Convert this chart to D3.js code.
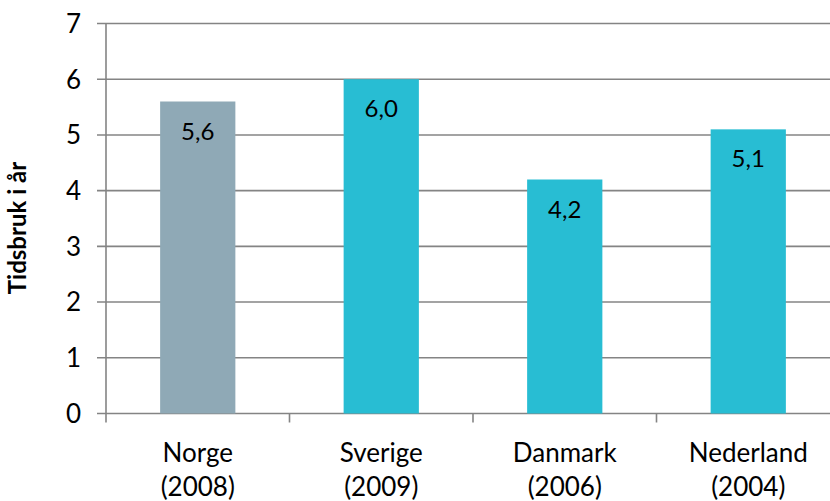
<!DOCTYPE html>
<html>
<head>
<meta charset="utf-8">
<script src="https://d3js.org/d3.v7.min.js"></script>
<style>
  body { margin: 0; background: #fff; }
  text { font-family: Lato, "Open Sans", sans-serif; fill: #000; }
</style>
</head>
<body>
<script>
const countries = ["Norge", "Sverige", "Danmark", "Nederland"];
const years = ["(2008)", "(2009)", "(2006)", "(2004)"];
const values = [5.6, 6.0, 4.2, 5.1];
const yTicks = [0, 1, 2, 3, 4, 5, 6, 7];
const barColors = ["#8FA9B6", "#28BDD3", "#28BDD3", "#28BDD3"];

const width = 830, height = 501;
const plotLeft = 106, plotRight = 840, plotTop = 23.5, plotBottom = 413.5;

const svg = d3.select("body").append("svg")
    .attr("width", width)
    .attr("height", height);

const x = d3.scaleBand()
    .domain(countries)
    .range([plotLeft, plotRight])
    .paddingInner(0.59)
    .paddingOuter(0.295);

const y = d3.scaleLinear()
    .domain([0, 7])
    .range([plotBottom, plotTop]);

// gridlines
svg.append("g")
    .selectAll("line")
    .data(yTicks)
    .enter().append("line")
    .attr("x1", plotLeft - 9)
    .attr("x2", plotRight)
    .attr("y1", d => y(d))
    .attr("y2", d => y(d))
    .attr("stroke", "#848484")
    .attr("stroke-width", 1.6);

// bars
svg.append("g")
    .selectAll("rect")
    .data(values)
    .enter().append("rect")
    .attr("x", (d, i) => x(countries[i]))
    .attr("width", x.bandwidth())
    .attr("y", d => y(d))
    .attr("height", d => y(0) - y(d))
    .attr("fill", (d, i) => barColors[i]);

// y axis line
svg.append("line")
    .attr("x1", plotLeft).attr("x2", plotLeft)
    .attr("y1", y(7)).attr("y2", y(0) + 9)
    .attr("stroke", "#848484")
    .attr("stroke-width", 1.6);

// x axis ticks at category boundaries
const step = x.step();
svg.append("g")
    .selectAll("line")
    .data(d3.range(1, countries.length + 1))
    .enter().append("line")
    .attr("x1", d => plotLeft + d * step)
    .attr("x2", d => plotLeft + d * step)
    .attr("y1", y(0))
    .attr("y2", y(0) + 9)
    .attr("stroke", "#848484")
    .attr("stroke-width", 1.6);

// y tick labels
svg.append("g")
    .selectAll("text")
    .data(yTicks)
    .enter().append("text")
    .attr("x", 81)
    .attr("y", d => y(d))
    .attr("dy", "0.36em")
    .attr("text-anchor", "end")
    .attr("font-size", 26)
    .text(d => d);

// value labels
svg.append("g")
    .selectAll("text")
    .data(values)
    .enter().append("text")
    .attr("x", (d, i) => x(countries[i]) + x.bandwidth() / 2)
    .attr("y", d => y(d) + 38)
    .attr("text-anchor", "middle")
    .attr("font-size", 24)
    .text(d => d.toFixed(1).replace(".", ","));

// category labels
const cats = svg.append("g")
    .selectAll("text")
    .data(countries)
    .enter().append("text")
    .attr("x", d => x(d) + x.bandwidth() / 2)
    .attr("text-anchor", "middle")
    .attr("font-size", 26);
cats.append("tspan")
    .attr("x", d => x(d) + x.bandwidth() / 2)
    .attr("y", 462)
    .text(d => d);
cats.append("tspan")
    .attr("x", d => x(d) + x.bandwidth() / 2)
    .attr("y", 496)
    .text((d, i) => years[i]);

// y title
svg.append("text")
    .attr("transform", "translate(26,228) rotate(-90)")
    .attr("text-anchor", "middle")
    .attr("font-size", 24)
    .attr("font-weight", "bold")
    .text("Tidsbruk i år");
</script>
</body>
</html>
